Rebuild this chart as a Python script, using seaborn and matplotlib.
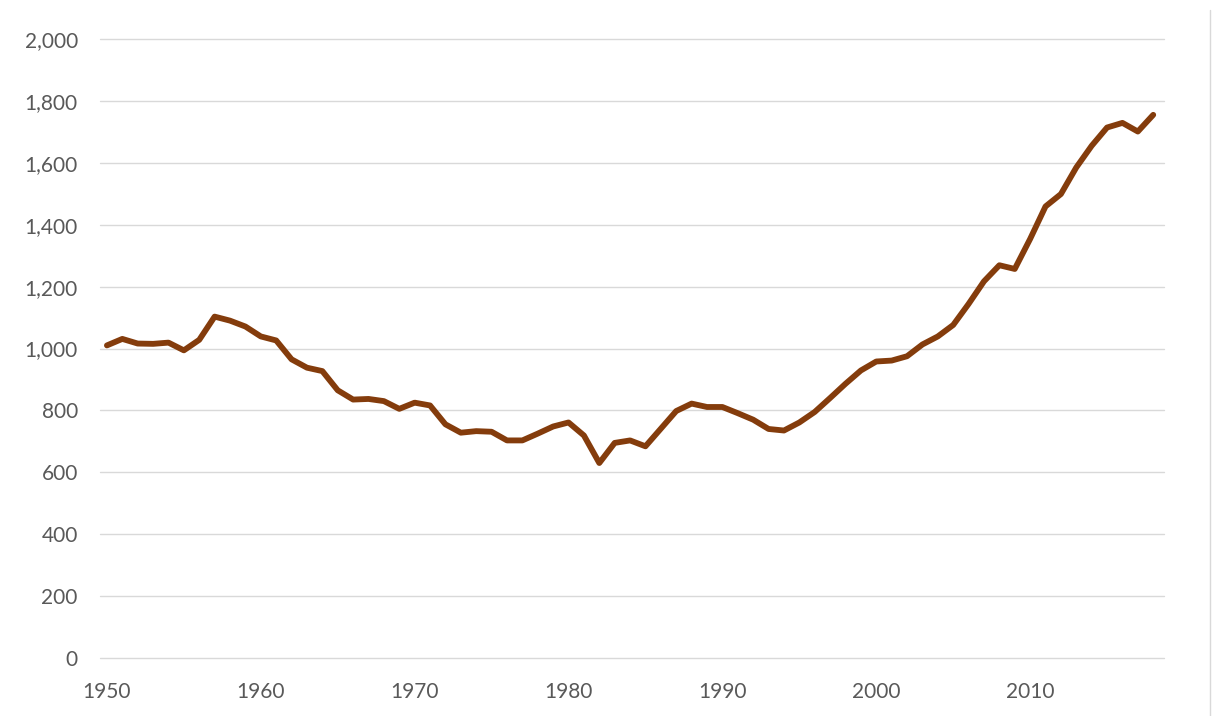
import matplotlib
matplotlib.use("Agg")
import matplotlib.pyplot as plt
from matplotlib.lines import Line2D
from matplotlib.ticker import FuncFormatter
import pandas as pd
import seaborn as sns

# values
years = list(range(1950, 2019))
values = [
    1010, 1031, 1016, 1015, 1019, 994, 1028, 1103, 1090, 1071,
    1039, 1026, 965, 938, 927, 865, 835, 837, 830, 805,
    825, 816, 755, 728, 733, 731, 703, 703, 725, 748,
    761, 719, 630, 695, 703, 684, 741, 798, 822, 811,
    811, 791, 770, 740, 735, 761, 795, 840, 886, 929,
    958, 961, 975, 1013, 1039, 1076, 1144, 1217, 1269, 1257,
    1354, 1459, 1499, 1585, 1655, 1714, 1729, 1701, 1755,
]
x_ticks = [1950, 1960, 1970, 1980, 1990, 2000, 2010]
y_ticks = [0, 200, 400, 600, 800, 1000, 1200, 1400, 1600, 1800, 2000]

df = pd.DataFrame({"year": years, "value": values})

sns.set_style("white")
plt.rcParams["font.family"] = ["Lato", "DejaVu Sans"]

W, H = 1213, 716
fig = plt.figure(figsize=(W / 100, H / 100), dpi=100)
ax = fig.add_axes([100 / W, (H - 658) / H, (1164 - 100) / W, (658 - 39) / H])

for yt in y_ticks:
    ax.axhline(yt, color="#D9D9D9", lw=1.0, zorder=0, clip_on=False)

sns.lineplot(data=df, x="year", y="value", ax=ax, color="#843C0C",
             linewidth=4.2, solid_capstyle="round", solid_joinstyle="round")

ax.set_xlim(1949.55, 2018.7)
ax.set_ylim(0, 2000)
ax.set_xticks(x_ticks)
ax.set_yticks(y_ticks)
ax.yaxis.set_major_formatter(FuncFormatter(lambda v, p: f"{int(v):,}"))
ax.tick_params(axis="both", length=0, labelsize=15, labelcolor="#595959")
ax.tick_params(axis="y", pad=16)
ax.tick_params(axis="x", pad=17)
ax.set_xlabel("")
ax.set_ylabel("")
for s in ax.spines.values():
    s.set_visible(False)

# thin frame edge at the right of the picture
fig.add_artist(Line2D([1210 / W, 1210 / W], [0, (H - 10) / H],
                      color="#D9D9D9", lw=1.0, transform=fig.transFigure))

fig.savefig("out.png", dpi=100)
